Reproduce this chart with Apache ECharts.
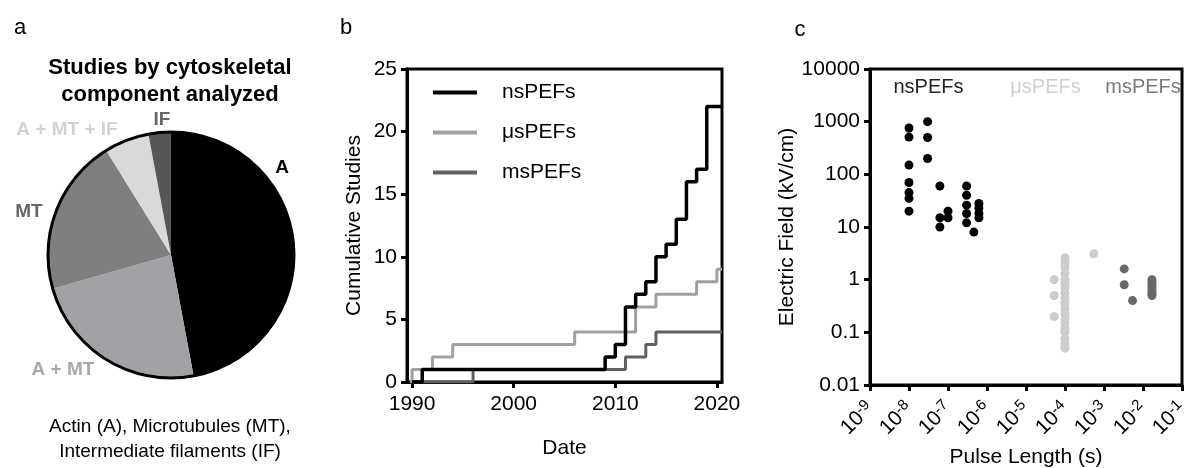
<!DOCTYPE html>
<html>
<head>
<meta charset="utf-8">
<script src="https://cdn.jsdelivr.net/npm/echarts@6/dist/echarts.min.js"></script>
<style>
html,body{margin:0;padding:0;background:#fff;}
#chart{width:1186px;height:468px;}
</style>
</head>
<body>
<div id="chart"></div>
<script>
// ---------- Panel a: pie ----------
const pieCategories = ['A', 'A + MT', 'MT', 'A + MT + IF', 'IF'];
const pieValues = [16, 8, 7, 2, 1];

// ---------- Panel b: cumulative studies (step lines) ----------
const nsYears  = [1990, 1991, 2009, 2010, 2011, 2012, 2013, 2014, 2015, 2016, 2017, 2018, 2019, 2020.5];
const nsCounts = [0, 1, 2, 3, 6, 7, 8, 10, 11, 13, 16, 17, 22, 22];
const usYears  = [1989.8, 1990, 1992, 1994, 2006, 2012, 2014, 2018, 2020, 2020.5];
const usCounts = [0, 1, 2, 3, 4, 6, 7, 8, 9, 9];
const msYears  = [1990, 1996, 2011, 2013, 2014, 2020.5];
const msCounts = [0, 1, 2, 3, 4, 4];
const yearTicks = [1990, 2000, 2010, 2020];

// ---------- Panel c: electric field vs pulse length ----------
const nsPulse = [1e-8, 1e-8, 1e-8, 1e-8, 1e-8, 1e-8, 1e-8,
                 3e-8, 3e-8, 3e-8,
                 6.2e-8, 6.2e-8, 6.2e-8,
                 1e-7, 1e-7,
                 3e-7, 3e-7, 3e-7, 3e-7, 3e-7,
                 4.6e-7,
                 6.2e-7, 6.2e-7, 6.2e-7, 6.2e-7];
const nsField = [760, 510, 150, 70, 45, 35, 20,
                 1000, 500, 200,
                 60, 15, 10,
                 20, 15,
                 60, 40, 26, 18, 12,
                 8,
                 28, 23, 18, 15];
const usPulse = [1e-4, 1e-4, 1e-4, 1e-4, 1e-4, 1e-4, 1e-4, 1e-4, 1e-4, 1e-4,
                 1e-4, 1e-4, 1e-4, 1e-4, 1e-4, 1e-4, 1e-4, 1e-4, 1e-4,
                 5.3e-5, 5.3e-5, 5.3e-5,
                 5.5e-4];
const usField = [2.6, 2.1, 1.7, 1.3, 1.0, 0.85, 0.7, 0.55, 0.45, 0.36,
                 0.28, 0.22, 0.18, 0.15, 0.12, 0.1, 0.075, 0.06, 0.05,
                 1.0, 0.5, 0.2,
                 3.1];
const msPulse = [3.3e-3, 3.3e-3, 5.4e-3, 1.7e-2, 1.7e-2, 1.7e-2, 1.7e-2, 1.7e-2, 1.7e-2, 1.7e-2];
const msField = [1.6, 0.8, 0.4, 1.0, 0.9, 0.8, 0.7, 0.62, 0.55, 0.5];
const pulseTicks = [1e-9, 1e-8, 1e-7, 1e-6, 1e-5, 1e-4, 1e-3, 1e-2, 1e-1];
const fieldTicks = [0.01, 0.1, 1, 10, 100, 1000, 10000];
const regimeBounds = [1e-9, 1e-6, 1e-3, 1e-1];
const regimeNames = ['nsPEFs', 'μsPEFs', 'msPEFs'];

// ---------- styling ----------
const FONT = "'Liberation Sans', Arial, Helvetica, sans-serif";
const pieColors = ['#000000', '#a2a2a6', '#7f7f7f', '#d9d9d9', '#575757'];
const pieLabelColors = ['#000000', '#a8a8a8', '#666666', '#d2d2d2', '#666666'];
const pieLabelPos = [[282, 168], [63, 370], [29, 212], [67, 130], [162, 120]];
const regimeColors = ['#222222', '#cfcfcf', '#7a7a7a'];
const seriesColors = {ns: '#000000', us: '#a0a0a0', ms: '#606060'};
const dotColors = {ns: '#000000', us: '#cccccc', ms: '#686868'};

const zip = (a, b) => a.map((v, i) => [v, b[i]]);
// keep the end ticks a hair inside the log extent so floating-point rounding does not drop them
const insideExtent = (arr) => arr.map((v, i) => i === 0 ? v * (1 + 1e-9) : (i === arr.length - 1 ? v * (1 - 1e-9) : v));

const axisCommon = {
  axisLine: {show: true, onZero: false, lineStyle: {color: '#000', width: 3}},
  splitLine: {show: false},
  nameTextStyle: {fontSize: 21, color: '#000', fontFamily: FONT}
};

const chart = echarts.init(document.getElementById('chart'), null, {renderer: 'canvas'});

const option = {
  animation: false,
  backgroundColor: '#fff',
  textStyle: {fontFamily: FONT},
  grid: [
    {left: 407, right: 464, top: 69, bottom: 86, show: true, borderColor: '#000', borderWidth: 3,
     containLabel: false, outerBoundsMode: 'none'},
    {left: 870, right: 4, top: 69, bottom: 83, show: true, borderColor: '#000', borderWidth: 3,
     containLabel: false, outerBoundsMode: 'none'}
  ],
  legend: {
    data: ['nsPEFs', 'μsPEFs', 'msPEFs'],
    orient: 'vertical',
    left: 428, top: 77,
    icon: 'rect',
    itemWidth: 44, itemHeight: 4,
    itemGap: 19,
    textStyle: {fontSize: 21, color: '#000', fontFamily: FONT, padding: [0, 0, 0, 20]}
  },
  xAxis: [
    Object.assign({}, axisCommon, {
      gridIndex: 0, type: 'value', min: 1989.5, max: 2020.5,
      name: 'Date', nameLocation: 'middle', nameGap: 56,
      axisTick: {show: true, customValues: yearTicks, length: 6, lineStyle: {color: '#000', width: 3}},
      axisLabel: {customValues: yearTicks, fontSize: 21, color: '#000', margin: 12, fontFamily: FONT,
                  formatter: function (v) { return String(Math.round(v)); }}
    }),
    Object.assign({}, axisCommon, {
      gridIndex: 1, type: 'log', logBase: 10, min: 1e-9, max: 1e-1,
      name: 'Pulse Length (s)', nameLocation: 'middle', nameGap: 62,
      axisTick: {show: true, customValues: insideExtent(pulseTicks), length: 6, lineStyle: {color: '#000', width: 3}},
      minorTick: {show: false},
      axisLabel: {
        customValues: insideExtent(pulseTicks),
        showMinLabel: true, showMaxLabel: true,
        rotate: 45, margin: 20, color: '#000', fontFamily: FONT, hideOverlap: false,
        formatter: function (v) {
          const e = Math.round(Math.log10(v));
          return '{b|10}{s|' + e + '}';
        },
        rich: {
          b: {fontSize: 21, lineHeight: 22, verticalAlign: 'bottom', color: '#000', fontFamily: FONT},
          s: {fontSize: 15, lineHeight: 22, verticalAlign: 'top', color: '#000', fontFamily: FONT}
        }
      }
    })
  ],
  yAxis: [
    Object.assign({}, axisCommon, {
      gridIndex: 0, type: 'value', min: 0, max: 25, interval: 5,
      name: 'Cumulative Studies', nameLocation: 'middle', nameGap: 42,
      axisTick: {show: true, length: 6, lineStyle: {color: '#000', width: 3}},
      axisLabel: {fontSize: 21, color: '#000', margin: 10, fontFamily: FONT}
    }),
    Object.assign({}, axisCommon, {
      gridIndex: 1, type: 'log', logBase: 10, min: 0.01, max: 10000,
      name: 'Electric Field (kV/cm)', nameLocation: 'middle', nameGap: 66,
      axisTick: {show: true, customValues: insideExtent(fieldTicks), length: 6, lineStyle: {color: '#000', width: 3}},
      minorTick: {show: false},
      axisLabel: {
        customValues: insideExtent(fieldTicks),
        showMinLabel: true, showMaxLabel: true,
        fontSize: 21, color: '#000', margin: 10, fontFamily: FONT, hideOverlap: false,
        formatter: function (v) {
          const e = Math.round(Math.log10(v));
          return e >= 0 ? String(Math.pow(10, e)) : String(Math.pow(10, e).toFixed(-e));
        }
      }
    })
  ],
  series: [
    {
      type: 'pie', name: 'components', center: [171, 255], radius: 123,
      startAngle: 90, clockwise: true, silent: true,
      data: pieCategories.map((c, i) => ({
        name: c, value: pieValues[i],
        itemStyle: {color: pieColors[i]},
        label: {color: pieLabelColors[i]}
      })),
      itemStyle: {borderWidth: 0},
      label: {show: true, position: 'inside', formatter: '{b}', fontSize: 19, fontWeight: 'bold',
              fontFamily: FONT, overflow: 'none'},
      labelLine: {show: false},
      labelLayout: function (p) {
        const pos = pieLabelPos[p.dataIndex];
        return {x: pos[0], y: pos[1], align: 'center', verticalAlign: 'middle', hideOverlap: false, moveOverlap: false};
      }
    },
    {
      type: 'pie', name: 'outline', center: [171, 255], radius: 123, silent: true,
      data: [{name: 'outline', value: 1}],
      itemStyle: {color: 'rgba(0,0,0,0)', borderColor: '#000', borderWidth: 3},
      label: {show: false}, labelLine: {show: false}, tooltip: {show: false}
    },
    {
      type: 'line', name: 'μsPEFs', xAxisIndex: 0, yAxisIndex: 0, step: 'end',
      data: zip(usYears, usCounts), symbol: 'none',
      lineStyle: {color: seriesColors.us, width: 3}, itemStyle: {color: seriesColors.us}
    },
    {
      type: 'line', name: 'msPEFs', xAxisIndex: 0, yAxisIndex: 0, step: 'end',
      data: zip(msYears, msCounts), symbol: 'none',
      lineStyle: {color: seriesColors.ms, width: 3}, itemStyle: {color: seriesColors.ms}
    },
    {
      type: 'line', name: 'nsPEFs', xAxisIndex: 0, yAxisIndex: 0, step: 'end',
      data: zip(nsYears, nsCounts), symbol: 'none',
      lineStyle: {color: seriesColors.ns, width: 3.5}, itemStyle: {color: seriesColors.ns}
    },
    {
      type: 'scatter', name: 'ns-dots', xAxisIndex: 1, yAxisIndex: 1,
      data: zip(nsPulse, nsField), symbolSize: 9,
      itemStyle: {color: dotColors.ns, opacity: 1},
      markLine: {
        silent: true, symbol: 'none', label: {show: false},
        lineStyle: {color: '#8a8a8a', type: 'dotted', width: 2},
        data: [{xAxis: regimeBounds[1]}, {xAxis: regimeBounds[2]}]
      },
      markArea: {
        silent: true,
        itemStyle: {color: 'rgba(0,0,0,0)'},
        label: {position: 'insideTop', distance: 8, fontSize: 20, fontFamily: FONT},
        data: regimeNames.map((n, i) => [
          {name: n, xAxis: regimeBounds[i], label: {color: regimeColors[i]}},
          {xAxis: regimeBounds[i + 1]}
        ])
      }
    },
    {
      type: 'scatter', name: 'us-dots', xAxisIndex: 1, yAxisIndex: 1,
      data: zip(usPulse, usField), symbolSize: 9,
      itemStyle: {color: dotColors.us, opacity: 1}
    },
    {
      type: 'scatter', name: 'ms-dots', xAxisIndex: 1, yAxisIndex: 1,
      data: zip(msPulse, msField), symbolSize: 9,
      itemStyle: {color: dotColors.ms, opacity: 1}
    }
  ],
  graphic: [
    {type: 'text', x: 20, y: 28, style: {text: 'a', fontSize: 22, fontFamily: FONT, fill: '#000', align: 'center', verticalAlign: 'middle'}},
    {type: 'text', x: 346, y: 28, style: {text: 'b', fontSize: 22, fontFamily: FONT, fill: '#000', align: 'center', verticalAlign: 'middle'}},
    {type: 'text', x: 800, y: 30, style: {text: 'c', fontSize: 22, fontFamily: FONT, fill: '#000', align: 'center', verticalAlign: 'middle'}},
    {type: 'text', x: 170, y: 68, style: {text: 'Studies by cytoskeletal', fontSize: 22, fontWeight: 'bold', fontFamily: FONT, fill: '#000', align: 'center', verticalAlign: 'middle'}},
    {type: 'text', x: 170, y: 95, style: {text: 'component analyzed', fontSize: 22, fontWeight: 'bold', fontFamily: FONT, fill: '#000', align: 'center', verticalAlign: 'middle'}},
    {type: 'text', x: 170, y: 427, style: {text: 'Actin (A), Microtubules (MT),', fontSize: 19, fontFamily: FONT, fill: '#000', align: 'center', verticalAlign: 'middle'}},
    {type: 'text', x: 170, y: 452, style: {text: 'Intermediate filaments (IF)', fontSize: 19, fontFamily: FONT, fill: '#000', align: 'center', verticalAlign: 'middle'}}
  ]
};

chart.setOption(option);
</script>
</body>
</html>
